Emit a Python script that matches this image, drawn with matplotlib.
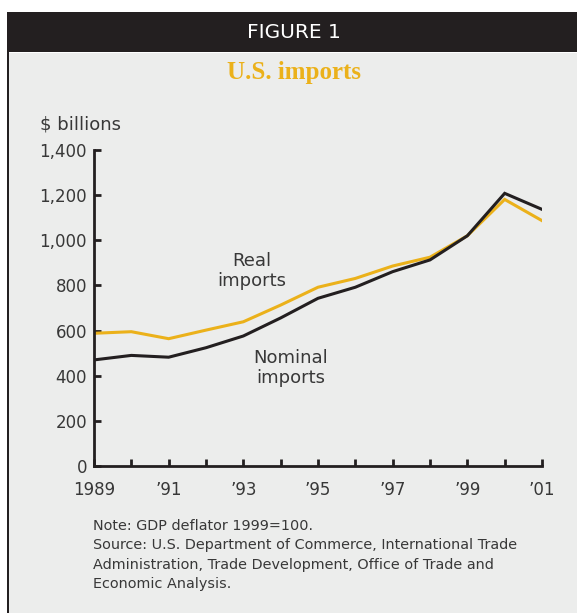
import matplotlib
matplotlib.use("Agg")
import matplotlib.pyplot as plt
from matplotlib.patches import Rectangle

# U.S. imports, $ billions
years = [1989, 1990, 1991, 1992, 1993, 1994, 1995, 1996, 1997, 1998, 1999, 2000, 2001]
real_imports = [588, 595, 564, 602, 639, 713, 792, 831, 886, 925, 1020, 1181, 1087]
nominal_imports = [470, 490, 482, 524, 576, 656, 743, 792, 861, 913, 1020, 1208, 1137]

y_ticks = [0, 200, 400, 600, 800, 1000, 1200, 1400]
y_labels = ["0", "200", "400", "600", "800", "1,000", "1,200", "1,400"]
x_ticks = [1989, 1991, 1993, 1995, 1997, 1999, 2001]
x_labels = ["1989", "\u201991", "\u201993", "\u201995", "\u201997", "\u201999", "\u201901"]

W, H = 577, 613
dark = "#231f20"
gold = "#ebb11a"
text_col = "#383838"
panel = "#ecedec"

fig = plt.figure(figsize=(W / 100, H / 100), dpi=100, facecolor="white")

# header bar and panel
fig.patches.append(Rectangle((7 / W, (H - 52) / H), 1, 40 / H, transform=fig.transFigure,
                             facecolor=dark, edgecolor="none", zorder=-10))
fig.patches.append(Rectangle((9 / W, 0), 1, (H - 53) / H, transform=fig.transFigure,
                             facecolor=panel, edgecolor="none", zorder=-10))
fig.patches.append(Rectangle((7 / W, 0), 2 / W, (H - 52) / H, transform=fig.transFigure,
                             facecolor=dark, edgecolor="none", zorder=-10))

fig.text(294 / W, 1 - 32.5 / H, "FIGURE 1", color="white", fontsize=14.5,
         ha="center", va="center")
fig.text(294 / W, 1 - 72 / H, "U.S. imports", color=gold, fontsize=18,
         fontweight="bold", family="Liberation Serif", ha="center", va="center")
fig.text(40 / W, 1 - 124 / H, "$ billions", color=text_col, fontsize=13,
         ha="left", va="center")

ax = fig.add_axes([94 / W, (H - 466) / H, 448 / W, 316 / H])
ax.patch.set_visible(False)

ax.plot(years, real_imports, color=gold, lw=2.2, solid_joinstyle="miter")
ax.plot(years, nominal_imports, color=dark, lw=2.2, solid_joinstyle="miter")

ax.set_xlim(1989, 2001)
ax.set_ylim(0, 1400)
ax.set_yticks(y_ticks)
ax.set_yticklabels(y_labels)
ax.set_xticks(years)
ax.set_xticklabels([x_labels[x_ticks.index(y)] if y in x_ticks else "" for y in years])

for s in ["top", "right"]:
    ax.spines[s].set_visible(False)
for s in ["left", "bottom"]:
    ax.spines[s].set_color(dark)
    ax.spines[s].set_linewidth(2)

ax.tick_params(axis="both", direction="in", length=5, width=2, color=dark,
               labelcolor=text_col, labelsize=12)
ax.tick_params(axis="y", pad=5)
ax.tick_params(axis="x", pad=11)

ax.text(1993.23, 862, "Real\nimports", color=text_col, fontsize=13,
        ha="center", va="center", linespacing=1.15)
ax.text(1994.28, 436, "Nominal\nimports", color=text_col, fontsize=13,
        ha="center", va="center", linespacing=1.15)

notes = ("Note: GDP deflator 1999=100.\n"
         "Source: U.S. Department of Commerce, International Trade\n"
         "Administration, Trade Development, Office of Trade and\n"
         "Economic Analysis.")
fig.text(93 / W, 1 - 555 / H, notes, color=text_col, fontsize=10.35, ha="left", va="center",
         linespacing=1.5)

fig.savefig("out.png", dpi=100)
